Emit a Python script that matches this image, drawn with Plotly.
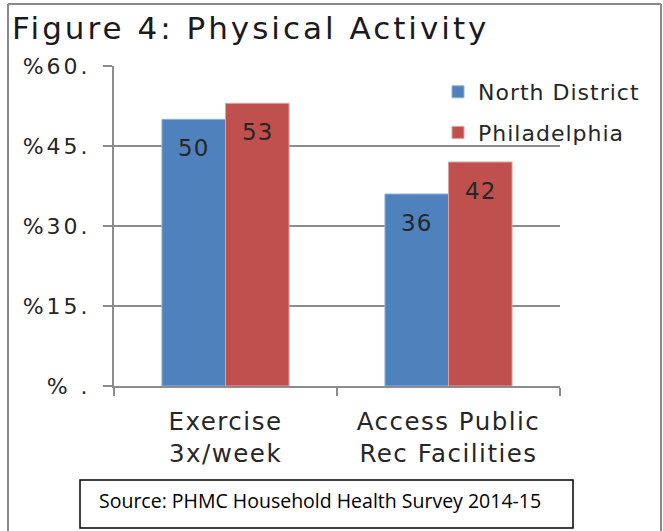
import plotly.graph_objects as go

# Survey results (percent of respondents)
categories = ["Exercise<br>3x/week", "Access Public<br>Rec Facilities"]
north_district = [50, 36]
philadelphia = [53, 42]
tick_values = [0, 15, 30, 45, 60]
tick_labels = ["% .", "%15.", "%30.", "%45.", "%60."]

W, H = 663, 531
L, R, T, B = 114, 103, 66, 145
PW, PH = W - L - R, H - T - B

def px_x(x):
    return (x - L) / PW

def px_y(y):
    return (H - B - y) / PH

def spaced(text, px):
    """Wrap text in a span with extra letter spacing."""
    return f'<span style="letter-spacing:{px}px">{text}</span>'

FONT = "DejaVu Sans"
BLUE = "#4F81BD"
RED = "#C0504D"
GRID = "#8c8c8c"
TXT = "#262626"

fig = go.Figure()
fig.add_trace(go.Bar(
    name=spaced("North District", 1), x=categories, y=north_district,
    marker=dict(color=BLUE, line=dict(color="#8fb0d8", width=1)),
    legendgroup="a",
))
fig.add_trace(go.Bar(
    name=spaced("Philadelphia", 1), x=categories, y=philadelphia,
    marker=dict(color=RED, line=dict(color="#e0a09e", width=1)),
    legendgroup="b",
))

annotations = []
# value labels, placed just below the top of each bar
for series, shift in ((north_district, -32), (philadelphia, 32)):
    for cat, val in zip(categories, series):
        annotations.append(dict(
            x=cat, y=val, xref="x", yref="y", text=spaced(str(val), 1),
            showarrow=False, xshift=shift, yshift=-14, yanchor="top",
            font=dict(family=FONT, size=23, color=TXT),
        ))

# chart title
annotations.append(dict(
    x=px_x(10), y=px_y(28), xref="paper", yref="paper",
    text=spaced("Figure 4: Physical Activity", 3), showarrow=False,
    xanchor="left", yanchor="middle",
    font=dict(family=FONT, size=31, color="#1a1a1a"),
))
# source note
annotations.append(dict(
    x=px_x(97), y=px_y(500), xref="paper", yref="paper",
    text="Source: PHMC Household Health Survey 2014-15", showarrow=False,
    xanchor="left", yanchor="middle",
    font=dict(family="Open Sans", size=19.5, color="#000000"),
))

shapes = [
    # source box
    dict(type="rect", xref="paper", yref="paper",
         x0=px_x(80), x1=px_x(573), y0=px_y(480), y1=px_y(528),
         line=dict(color="#000000", width=1.5), fillcolor="rgba(0,0,0,0)"),
    # outer chart border (open at the bottom)
    dict(type="line", xref="paper", yref="paper",
         x0=px_x(8), x1=px_x(8), y0=px_y(4), y1=px_y(545),
         line=dict(color="#898989", width=2)),
    dict(type="line", xref="paper", yref="paper",
         x0=px_x(8), x1=px_x(661), y0=px_y(4), y1=px_y(4),
         line=dict(color="#898989", width=2)),
    dict(type="line", xref="paper", yref="paper",
         x0=px_x(661), x1=px_x(661), y0=px_y(4), y1=px_y(545),
         line=dict(color="#898989", width=2)),
]

fig.update_layout(
    width=W, height=H,
    margin=dict(l=L, r=R, t=T, b=B, pad=0),
    paper_bgcolor="white", plot_bgcolor="white",
    barmode="group", bargap=0.43, bargroupgap=0,
    showlegend=True,
    legend=dict(
        x=px_x(438), y=px_y(71), xanchor="left", yanchor="top",
        font=dict(family=FONT, size=22, color=TXT),
        bgcolor="rgba(0,0,0,0)", tracegroupgap=9,
        itemwidth=30,
    ),
    annotations=annotations,
    shapes=shapes,
    xaxis=dict(
        tickvals=categories,
        ticktext=[spaced(c, 1.5) for c in categories],
        showline=True, linecolor=GRID, linewidth=2,
        ticks="outside", tickson="boundaries", ticklen=8,
        tickcolor=GRID, tickwidth=2, ticklabelstandoff=13,
        tickfont=dict(family=FONT, size=24.5, color=TXT),
        showgrid=False, fixedrange=True,
    ),
    yaxis=dict(
        range=[0, 60], tickvals=tick_values,
        ticktext=[spaced(t, 3) for t in tick_labels],
        showline=True, linecolor=GRID, linewidth=2,
        ticks="outside", ticklen=9, tickcolor=GRID, tickwidth=2,
        ticklabelstandoff=8,
        showgrid=True, gridcolor=GRID, gridwidth=2,
        zeroline=False,
        tickfont=dict(family=FONT, size=22, color=TXT),
        fixedrange=True,
    ),
)

fig.write_html("out.html")
